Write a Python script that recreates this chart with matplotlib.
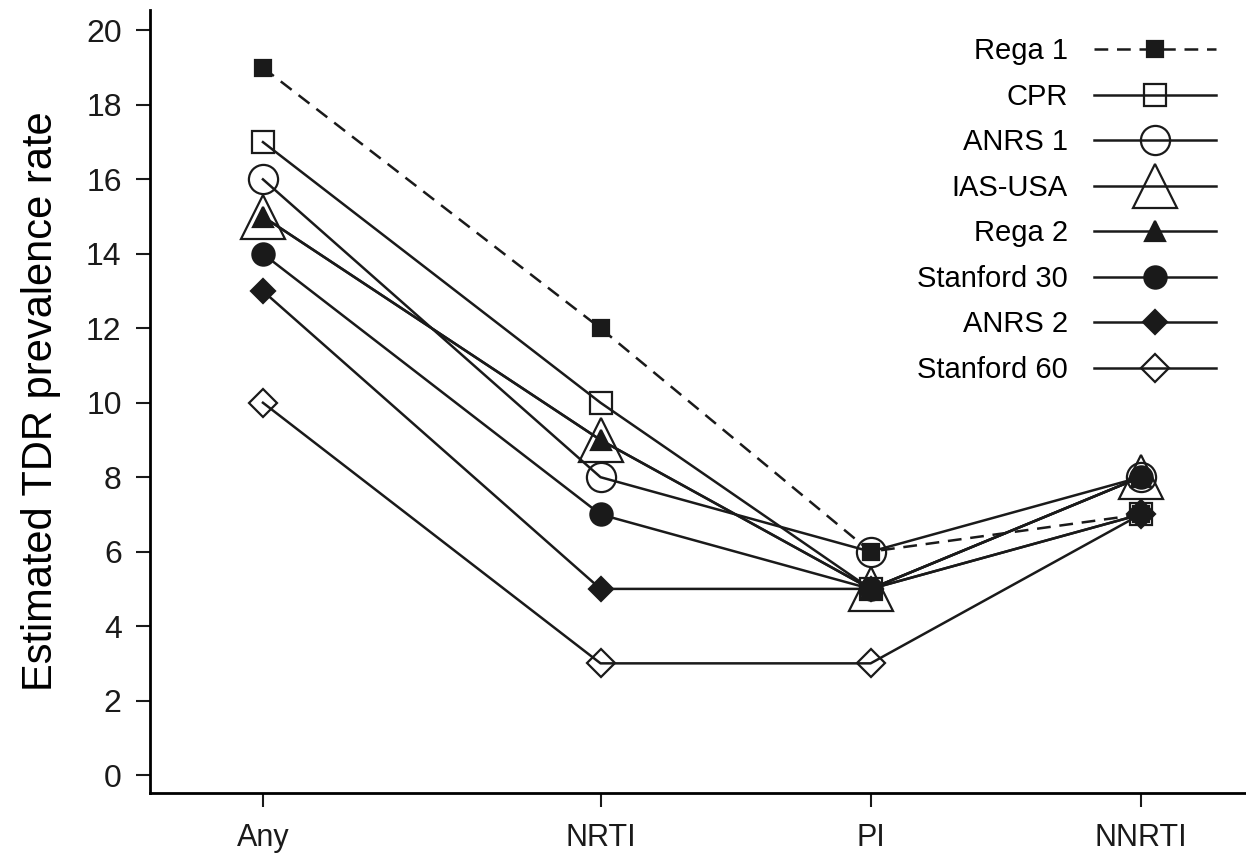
import numpy as np
import matplotlib.pyplot as plt

plt.rcParams['font.family'] = ['Liberation Sans', 'DejaVu Sans']

categories = ['Any', 'NRTI', 'PI', 'NNRTI']
cat_pos = [0, 1.25, 2.25, 3.25]

series = ['Rega 1', 'CPR', 'ANRS 1', 'IAS-USA', 'Rega 2',
          'Stanford 30', 'ANRS 2', 'Stanford 60']
rega1 = [19, 12, 6, 7]
cpr = [17, 10, 5, 7]
anrs1 = [16, 8, 6, 8]
ias_usa = [15, 9, 5, 8]
rega2 = [15, 9, 5, 8]
stanford30 = [14, 7, 5, 8]
anrs2 = [13, 5, 5, 7]
stanford60 = [10, 3, 3, 7]
values = [rega1, cpr, anrs1, ias_usa, rega2, stanford30, anrs2, stanford60]

# marker, size, filled, dashed
styles = [('s', 11, True, True),
          ('s', 16, False, False),
          ('o', 21, False, False),
          ('^', 31, False, False),
          ('^', 15, True, False),
          ('o', 16, True, False),
          ('D', 12, True, False),
          ('D', 14, False, False)]

fig = plt.figure(figsize=(12.46, 8.6), dpi=100)
ax = fig.add_axes([0.12, 0.078, 0.88, 0.91])

for name, vals, (mk, ms, filled, dashed) in zip(series, values, styles):
    ax.plot(cat_pos, vals, color='#1a1a1a', lw=1.8,
            linestyle=(0, (5.5, 3.5)) if dashed else '-',
            marker=mk, markersize=ms,
            markerfacecolor='#1a1a1a' if filled else 'none',
            markeredgecolor='#1a1a1a', markeredgewidth=1.6,
            label=name)

ax.set_xlim(-0.42, 3.64)
ax.set_ylim(-0.48, 20.54)
ax.set_xticks(cat_pos)
ax.set_xticklabels(categories)
ax.set_yticks(np.arange(0, 21, 2))
ax.tick_params(axis='both', width=1.5, length=10, direction='out',
               colors='#1a1a1a')
ax.tick_params(axis='y', labelsize=23, pad=10)
ax.tick_params(axis='x', labelsize=22, pad=12)
ax.spines['top'].set_visible(False)
ax.spines['right'].set_visible(False)
ax.spines['left'].set_linewidth(2)
ax.spines['bottom'].set_linewidth(2)
ax.set_ylabel('Estimated TDR prevalence rate', fontsize=30, labelpad=18)

leg = ax.legend(loc='upper right', bbox_to_anchor=(0.997, 0.999), frameon=False,
                markerfirst=False, numpoints=1, fontsize=21,
                handlelength=4.2, labelspacing=0.6, handletextpad=0.9)
for t in leg.get_texts():
    t.set_ha('right')
leg._legend_box.align = 'right'

fig.savefig('out.png', dpi=100)
